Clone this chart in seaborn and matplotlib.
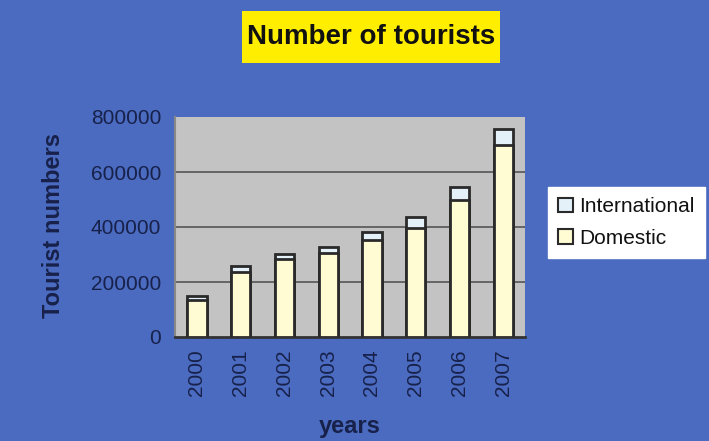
import matplotlib
matplotlib.use("Agg")
import matplotlib.pyplot as plt
from matplotlib.patches import Rectangle, Patch
import seaborn as sns
import pandas as pd

years = ["2000", "2001", "2002", "2003", "2004", "2005", "2006", "2007"]
domestic = [135000, 237000, 282000, 305000, 352000, 395000, 500000, 700000]
international = [15000, 23000, 20000, 24000, 30000, 42000, 46000, 55000]
yticks = [0, 200000, 400000, 600000, 800000]

total = [d + i for d, i in zip(domestic, international)]
df = pd.DataFrame({"year": years, "domestic": domestic, "total": total})

sns.set_style("white")
plt.rcParams["font.family"] = ["Liberation Sans", "DejaVu Sans"]

BG = "#4a6bc0"
TXT = "#17214a"
DOM = "#fffbd2"
INT = "#e4f1f8"
EDGE = "#2a2a2a"

fig = plt.figure(figsize=(7.09, 4.41), dpi=100, facecolor=BG)
ax = fig.add_axes([175/709, 1-337/441, 350/709, 220/441])
ax.set_facecolor("#c3c3c3")

sns.barplot(data=df, x="year", y="total", color=INT, saturation=1,
            edgecolor=EDGE, linewidth=2, width=0.44, ax=ax, zorder=3)
sns.barplot(data=df, x="year", y="domestic", color=DOM, saturation=1,
            edgecolor=EDGE, linewidth=2, width=0.44, ax=ax, zorder=3)

ax.set_ylim(0, 800000)
ax.set_yticks(yticks)
ax.set_yticklabels([str(v) for v in yticks])
ax.yaxis.grid(True, color="#555555", linewidth=1.2, zorder=0)
ax.set_axisbelow(True)
for gl in ax.get_ygridlines():
    if abs(gl.get_ydata()[0] - 800000) < 1 or abs(gl.get_ydata()[0]) < 1:
        gl.set_visible(False)

for s in ["top", "right"]:
    ax.spines[s].set_visible(False)
ax.spines["left"].set_color("#888888")
ax.spines["left"].set_linewidth(1.5)
ax.spines["bottom"].set_color("#333333")
ax.spines["bottom"].set_linewidth(2)

ax.tick_params(axis="y", direction="out", length=6, color="#888888",
               labelsize=15, labelcolor=TXT, pad=4)
ax.tick_params(axis="x", direction="out", length=3, color="#555555",
               labelsize=15, labelcolor=TXT, labelrotation=90, pad=6)
ax.set_xlabel("years", fontsize=17, fontweight="bold", color=TXT)
ax.set_ylabel("Tourist numbers", fontsize=17, fontweight="bold", color=TXT)
ax.xaxis.set_label_coords(0.5, -0.355)
ax.yaxis.set_label_coords(-0.315, 0.505)

# title box
fig.patches.append(Rectangle((242/709, 1-63/441), 258/709, 52/441,
                             transform=fig.transFigure, facecolor="#ffee00",
                             edgecolor="none", zorder=0))
fig.text(371/709, 1-37/441, "Number of tourists", ha="center", va="center",
         fontsize=20, fontweight="bold", color="#111111")

handles = [Patch(facecolor=INT, edgecolor=EDGE, linewidth=1.5, label="International"),
           Patch(facecolor=DOM, edgecolor=EDGE, linewidth=1.5, label="Domestic")]
leg = fig.legend(handles=handles, loc="upper left",
                 bbox_to_anchor=(548/709, 1-187/441), frameon=True,
                 fancybox=False, facecolor="white", edgecolor="white",
                 framealpha=1, fontsize=15, handlelength=0.7, handleheight=0.7,
                 handletextpad=0.3, borderpad=0.5, labelspacing=0.6,
                 borderaxespad=0)
for t in leg.get_texts():
    t.set_color("#111111")

fig.savefig("out.png", dpi=100, facecolor=BG)
